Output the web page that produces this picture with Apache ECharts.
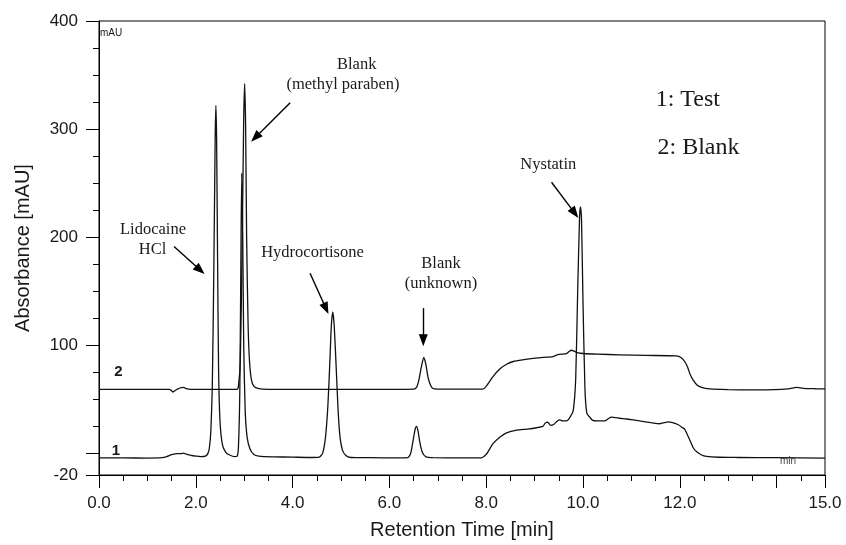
<!DOCTYPE html>
<html>
<head>
<meta charset="utf-8">
<script src="https://cdn.jsdelivr.net/npm/echarts@6/dist/echarts.min.js"></script>
<style>
  html, body { margin: 0; padding: 0; background: #fff; }
  #main { width: 846px; height: 545px; }
</style>
</head>
<body>
<div id="main"></div>
<script>
// trace 1: Test  [min, mAU]
var testTrace = [
  [0.0, -4.2], [0.5, -4.2], [1.0, -4.3], [1.3, -4.0], [1.4, -3.0], [1.5, -1.2], [1.6, -0.3],
  [1.7, -0.2], [1.75, 0.2], [1.8, -0.8], [1.9, -1.8], [2.0, -2.5], [2.1, -3.0], [2.2, -2.5],
  [2.25, 0], [2.28, 5], [2.31, 20], [2.34, 60], [2.37, 160], [2.40, 290], [2.415, 322],
  [2.43, 290], [2.45, 180], [2.47, 80], [2.50, 30], [2.55, 8], [2.62, 1], [2.7, -1.5],
  [2.8, -3], [2.85, -2.8], [2.88, 5], [2.91, 60], [2.935, 200], [2.95, 259], [2.97, 200],
  [2.99, 100], [3.02, 40], [3.06, 15], [3.12, 4], [3.2, -1], [3.3, -2.5], [3.6, -3.2],
  [4.0, -3.5], [4.4, -3.8], [4.55, -3.5], [4.62, 0], [4.68, 15], [4.73, 45], [4.77, 85],
  [4.80, 118], [4.83, 131], [4.86, 118], [4.90, 80], [4.94, 40], [4.98, 15], [5.03, 3],
  [5.1, -2], [5.2, -3.8], [5.6, -4.0], [6.2, -4.2], [6.38, -4], [6.44, 0], [6.49, 12],
  [6.53, 22], [6.56, 25], [6.59, 21], [6.63, 10], [6.68, 1], [6.75, -3], [6.9, -4],
  [7.5, -4.1], [7.9, -4.1], [8.0, -1], [8.14, 9], [8.28, 15], [8.42, 19], [8.63, 21.5],
  [8.85, 22.5], [9.04, 23.7], [9.17, 25], [9.22, 28], [9.27, 29], [9.33, 26], [9.40, 27],
  [9.47, 30], [9.52, 31], [9.58, 30], [9.66, 30], [9.74, 34], [9.80, 40], [9.85, 70],
  [9.89, 150], [9.93, 220], [9.95, 228], [9.97, 215], [10.0, 140], [10.04, 60], [10.08, 37],
  [10.14, 33.5], [10.2, 30.5], [10.3, 30], [10.45, 30], [10.52, 32], [10.59, 33.5],
  [10.76, 32.5], [10.9, 31.8], [11.17, 30], [11.4, 28.5], [11.59, 27.4], [11.68, 28.5],
  [11.76, 29.2], [11.85, 28.5], [11.97, 26.5], [12.05, 24], [12.1, 22.5], [12.15, 18],
  [12.21, 12], [12.28, 5], [12.35, 1.4], [12.45, -1.5], [12.55, -2.8], [12.8, -3.6],
  [13.2, -3.8], [14.0, -4.0], [15.0, -4.3]
]

// trace 2: Blank  [min, mAU]
var blankTrace = [
  [0.0, 59.3], [1.0, 59.3], [1.45, 59.2], [1.5, 58], [1.53, 56.8], [1.57, 58], [1.62, 59.5],
  [1.7, 60.8], [1.75, 61], [1.8, 60], [1.9, 59.3], [2.5, 59.2], [2.85, 59.3], [2.88, 62],
  [2.92, 85], [2.96, 200], [2.99, 310], [3.01, 342], [3.03, 300], [3.05, 200], [3.08, 120],
  [3.11, 85], [3.15, 68], [3.2, 62], [3.3, 60], [3.5, 59.3], [4.5, 59.2], [6.0, 59.2],
  [6.5, 59.4], [6.56, 61], [6.61, 68], [6.66, 80], [6.71, 88.7], [6.75, 83], [6.80, 70],
  [6.85, 63], [6.9, 60], [7.0, 59.5], [7.5, 59.4], [7.93, 59.4], [8.0, 62], [8.14, 71],
  [8.28, 78], [8.42, 82.5], [8.56, 85], [8.75, 86.5], [8.97, 87.8], [9.18, 88.8],
  [9.38, 89.6], [9.5, 91.5], [9.66, 92.3], [9.72, 94.5], [9.76, 95.4], [9.82, 94.5],
  [9.9, 93], [10.0, 92.4], [10.3, 91.8], [10.76, 91.2], [11.3, 90.6], [11.93, 90.2],
  [12.03, 88.5], [12.1, 85], [12.16, 80], [12.21, 73.4], [12.28, 67.5], [12.35, 63.6],
  [12.45, 61], [12.62, 59.6], [13.0, 59], [13.5, 58.7], [14.1, 59.2], [14.28, 60],
  [14.41, 61], [14.55, 60.2], [14.8, 59.8], [15.0, 59.6]
]

// axis ticks / labels
var xLabelValues = [0, 2, 4, 6, 8, 10, 12, 15]
var xMajorTicks = [0, 2, 4, 6, 8, 10, 12, 14, 15]
var xMinorTicks = [0.5, 1, 1.5, 2.5, 3, 3.5, 4.5, 5, 5.5, 6.5, 7, 7.5, 8.5, 9, 9.5, 10.5, 11, 11.5, 12.5, 13, 13.5, 14.5]
var yLabelValues = [-20, 100, 200, 300, 400]
var yMajorTicks = [-20, 0, 100, 200, 300, 400]
var yMinorTicks = [25, 50, 75, 125, 150, 175, 225, 250, 275, 325, 350, 375]

// annotation arrows: [from, to] in [min, mAU]
var arrows = [
  [[1.55, 191.4], [2.09, 169.6]],   // Lidocaine HCl
  [[3.95, 324.4], [3.23, 292.3]],   // methyl paraben
  [[4.36, 166.6], [4.69, 134.0]],   // Hydrocortisone
  [[6.70, 134.4], [6.70, 104.7]],   // unknown
  [[9.35, 250.8], [9.83, 222.3]]    // Nystatin
]

var sans = 'Liberation Sans, Arial, sans-serif'
var serif = 'Liberation Serif, Times New Roman, serif'
var ink = '#1a1a1a'

function txt(text, x, y, size, family, align, weight, color) {
  return {
    type: 'text', x: x, y: y, silent: true,
    style: {
      text: text, fill: color || ink, fontSize: size, fontFamily: family,
      fontWeight: weight || 'normal', align: align || 'center', verticalAlign: 'middle'
    }
  }
}

var myChart = echarts.init(document.getElementById('main'))

var option = {
  animation: false,
  backgroundColor: '#fff',
  grid: { left: 99, right: 21, top: 21, bottom: 67, show: true, borderColor: '#000', borderWidth: 1 },
  xAxis: [{
    type: 'value', min: 0, max: 15,
    name: 'Retention Time [min]', nameLocation: 'middle', nameGap: 45,
    nameTextStyle: { fontFamily: sans, fontSize: 20, color: ink },
    axisLine: { onZero: false, lineStyle: { color: '#000', width: 1 } },
    axisTick: { length: 13, lineStyle: { color: '#000' }, customValues: xMajorTicks },
    axisLabel: {
      customValues: xLabelValues, margin: 20, fontFamily: sans, fontSize: 17, color: ink,
      formatter: function (v) { return v.toFixed(1) }
    },
    splitLine: { show: false }
  }, {
    type: 'value', min: 0, max: 15, position: 'bottom', offset: 0,
    axisLine: { show: false, onZero: false },
    axisTick: { length: 6, lineStyle: { color: '#000' }, customValues: xMinorTicks },
    axisLabel: { show: false },
    splitLine: { show: false }
  }],
  yAxis: [{
    type: 'value', min: -20, max: 400,
    name: 'Absorbance [mAU]', nameLocation: 'middle', nameGap: 66,
    nameTextStyle: { fontFamily: sans, fontSize: 20, color: ink },
    axisLine: { show: true, onZero: false, lineStyle: { color: '#000', width: 1 } },
    axisTick: { show: true, length: 13, lineStyle: { color: '#000' }, customValues: yMajorTicks },
    axisLabel: { customValues: yLabelValues, margin: 21, fontFamily: sans, fontSize: 17, color: ink },
    splitLine: { show: false }
  }, {
    type: 'value', min: -20, max: 400, position: 'left', offset: 0,
    axisLine: { show: false, onZero: false },
    axisTick: { show: true, length: 6, lineStyle: { color: '#000' }, customValues: yMinorTicks },
    axisLabel: { show: false },
    splitLine: { show: false }
  }],
  series: [{
    name: '1: Test', type: 'line', data: testTrace, showSymbol: false, smooth: 0.2,
    lineStyle: { color: '#111', width: 1.3 },
    markLine: {
      silent: true, symbol: ['none', 'triangle'], symbolSize: [9, 12],
      lineStyle: { color: '#000', width: 1.4, type: 'solid' },
      label: { show: false },
      data: arrows.map(function (a) { return [{ coord: a[0] }, { coord: a[1] }] })
    }
  }, {
    name: '2: Blank', type: 'line', data: blankTrace, showSymbol: false, smooth: 0.2,
    lineStyle: { color: '#111', width: 1.3 }
  }],
  graphic: [
    txt('Lidocaine', 153, 230, 16.5, serif),
    txt('HCl', 152.5, 250, 16.5, serif),
    txt('Blank', 356.7, 65, 16.5, serif),
    txt('(methyl paraben)', 343, 85, 16.5, serif),
    txt('Hydrocortisone', 312.5, 253, 16.5, serif),
    txt('Blank', 441, 263.3, 16.5, serif),
    txt('(unknown)', 441, 283.3, 16.5, serif),
    txt('Nystatin', 548.3, 165, 16.5, serif),
    txt('1: Test', 655.7, 99.3, 24, serif, 'left'),
    txt('2: Blank', 657.5, 147.5, 24, serif, 'left'),
    txt('2', 118.3, 371.7, 15, sans, 'center', 'bold'),
    txt('1', 116, 450.7, 15, sans, 'center', 'bold'),
    txt('mAU', 100, 33, 10, sans, 'left'),
    txt('min', 788, 461.7, 10, sans, 'center', 'normal', '#444')
  ]
}

myChart.setOption(option)
</script>
</body>
</html>
